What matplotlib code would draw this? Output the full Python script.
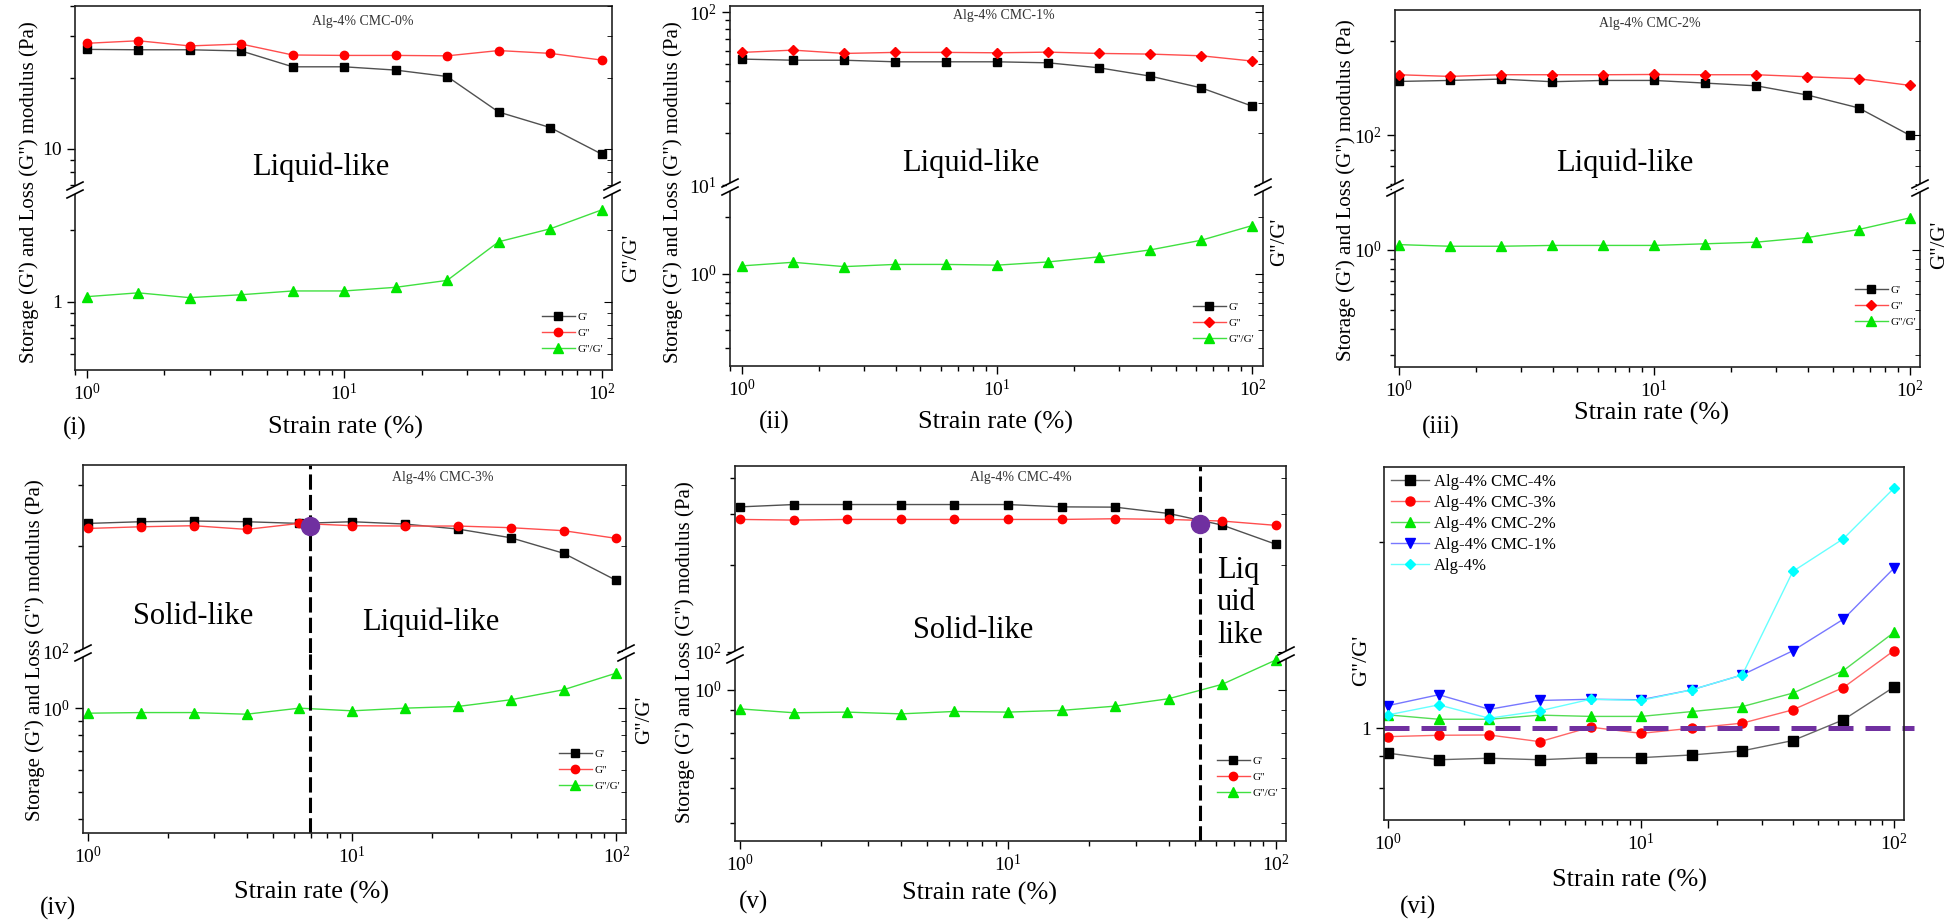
import matplotlib.pyplot as plt
from matplotlib.lines import Line2D
from matplotlib.patches import Rectangle
from matplotlib.ticker import NullFormatter, FuncFormatter

plt.rcParams['font.family'] = ['Liberation Serif', 'DejaVu Serif']
plt.rcParams['mathtext.fontset'] = 'custom'
plt.rcParams['mathtext.rm'] = 'Liberation Serif'
plt.rcParams['mathtext.it'] = 'Liberation Serif:italic'

# strain amplitude (%), 5 points per decade
strain = [1, 1.585, 2.512, 3.981, 6.31, 10, 15.85, 25.12, 39.81, 63.1, 100]

# (i) Alg-4% CMC-0%
store_0 = [26.3, 26.2, 26.2, 25.9, 22.2, 22.2, 21.5, 20.2, 14.3, 12.3, 9.5]
loss_0 = [27.9, 28.6, 27.2, 27.7, 24.9, 24.8, 24.8, 24.7, 26.0, 25.3, 23.7]
ratio_0 = [1.05, 1.09, 1.04, 1.07, 1.11, 1.11, 1.15, 1.23, 1.79, 2.03, 2.44]

# (ii) Alg-4% CMC-1%
store_1 = [53.7, 52.9, 52.9, 51.8, 51.8, 51.8, 51.1, 47.8, 42.8, 36.6, 28.7]
loss_1 = [58.7, 60.5, 57.9, 58.7, 58.7, 58.4, 58.9, 57.9, 57.4, 56.1, 52.3]
ratio_1 = [1.10, 1.15, 1.09, 1.12, 1.12, 1.11, 1.155, 1.23, 1.34, 1.51, 1.81]

# (iii) Alg-4% CMC-2%
store_2 = [148.6, 149.7, 151.2, 148.3, 149.7, 149.7, 146.8, 143.9, 134.5, 122.4, 100.2]
loss_2 = [156.1, 154.2, 156.1, 156.1, 156.1, 156.4, 156.1, 156.1, 153.8, 151.6, 144.4]
ratio_2 = [1.06, 1.04, 1.04, 1.05, 1.05, 1.05, 1.07, 1.09, 1.15, 1.26, 1.44]

# (iv) Alg-4% CMC-3%
store_3 = [232.6, 235.2, 236.3, 235.2, 232.6, 235.2, 231.6, 224.1, 211.6, 191.0, 159.6]
loss_3 = [225.0, 227.5, 229.1, 223.6, 232.6, 229.1, 228.6, 228.6, 226.1, 221.7, 210.7]
ratio_3 = [0.959, 0.964, 0.964, 0.951, 1.0, 0.978, 1.0, 1.014, 1.072, 1.165, 1.338]
cross_3 = [6.9, 229]

# (v) Alg-4% CMC-4%
store_4 = [318.7, 324.7, 324.7, 324.7, 324.7, 324.7, 318.7, 318.0, 302.3, 275.5, 236.4]
loss_4 = [288.2, 286.7, 288.2, 288.2, 288.2, 288.2, 288.2, 289.8, 288.2, 284.5, 274.9]
ratio_4 = [0.905, 0.887, 0.890, 0.882, 0.893, 0.890, 0.898, 0.918, 0.954, 1.028, 1.166]
cross_4 = [52.3, 277]

# (vi) G''/G' of all blends
vi_labels = ['Alg-4% CMC-4%', 'Alg-4% CMC-3%', 'Alg-4% CMC-2%', 'Alg-4% CMC-1%', 'Alg-4%']
vi_cmc4 = [0.911, 0.889, 0.894, 0.889, 0.896, 0.896, 0.905, 0.919, 0.955, 1.032, 1.166]
vi_cmc3 = [0.969, 0.974, 0.975, 0.951, 1.004, 0.981, 1.0, 1.019, 1.071, 1.164, 1.336]
vi_cmc2 = [1.051, 1.034, 1.034, 1.050, 1.045, 1.045, 1.064, 1.084, 1.140, 1.240, 1.430]
vi_cmc1 = [1.088, 1.133, 1.073, 1.109, 1.114, 1.112, 1.154, 1.220, 1.335, 1.502, 1.817]
vi_cmc0 = [1.051, 1.091, 1.038, 1.067, 1.114, 1.109, 1.154, 1.220, 1.795, 2.028, 2.449]

W, H = 1950, 923
fig = plt.figure(figsize=(W / 100, H / 100), dpi=100)


def box(l, t, r, b):
    return [l / W, 1 - b / H, (r - l) / W, (b - t) / H]


def put(x, y, s, **kw):
    kw.setdefault('ha', 'center')
    kw.setdefault('va', 'center')
    fig.text(x / W, 1 - y / H, s, **kw)


def break_marks(x, y):
    fig.add_artist(Rectangle(((x - 3) / W, 1 - (y + 4) / H), 6 / W, 8 / H,
                             facecolor='white', edgecolor='none', zorder=3))
    for dy in (-4, 4):
        fig.add_artist(Line2D([(x - 8) / W, (x + 8) / W],
                              [1 - (y + dy + 4) / H, 1 - (y + dy - 4) / H],
                              color='k', lw=1.2, zorder=4))


def setup_log(ax, xlim, ylim, plain):
    ax.set_xscale('log')
    ax.set_yscale('log')
    ax.set_xlim(xlim)
    ax.set_ylim(ylim)
    ax.xaxis.set_minor_formatter(NullFormatter())
    ax.yaxis.set_minor_formatter(NullFormatter())
    if plain:
        ax.yaxis.set_major_formatter(FuncFormatter(lambda v, p: '%g' % v))
    ax.tick_params(which='both', direction='out', labelsize=14, top=False, right=False, width=1)
    ax.tick_params(which='major', length=6)
    ax.tick_params(which='minor', length=3.5)
    for s in ax.spines.values():
        s.set_linewidth(1.2)
        s.set_color('#222222')


def right_ticks(ax):
    tw = ax.twinx()
    tw.set_yscale('log')
    tw.set_ylim(ax.get_ylim())
    tw.yaxis.set_major_formatter(NullFormatter())
    tw.yaxis.set_minor_formatter(NullFormatter())
    tw.tick_params(which='both', direction='in')
    tw.tick_params(which='major', length=6)
    tw.tick_params(which='minor', length=3.5)
    for s in tw.spines.values():
        s.set_visible(False)


def modulus_panel(frame, brk, xlim, ylim_up, ylim_low, store, loss, ratio, title, title_xy,
                  leg_xy, loss_marker='o', plain=False, cross=None):
    l, t, r, b = frame
    up = fig.add_axes(box(l, t, r, brk))
    low = fig.add_axes(box(l, brk, r, b))
    setup_log(up, xlim, ylim_up, plain)
    setup_log(low, xlim, ylim_low, plain)
    right_ticks(up)
    right_ticks(low)
    up.tick_params(axis='x', which='both', bottom=False, labelbottom=False)
    up.spines['bottom'].set_visible(False)
    low.spines['top'].set_visible(False)

    h1, = up.plot(strain, store, color='#505050', lw=1, marker='s', ms=6, mfc='k', mec='k')
    h2, = up.plot(strain, loss, color='#ff4d4d', lw=1, marker=loss_marker,
                  ms=6 if loss_marker == 'o' else 5, mfc='#ff0000', mec='#ff0000')
    h3, = low.plot(strain, ratio, color='#40e040', lw=1, marker='^', ms=7, mfc='#00e600', mec='#00e600')
    low.legend([h1, h2, h3], ["G'", 'G"', 'G"/G\''], loc='center right',
               bbox_to_anchor=(leg_xy[0] / W, 1 - leg_xy[1] / H), bbox_transform=fig.transFigure,
               frameon=False, fontsize=8, handlelength=3, handletextpad=0.2,
               labelspacing=0.55, borderpad=0, borderaxespad=0)
    put(title_xy[0], title_xy[1], title, fontsize=10, color='#333333')

    if cross is not None:
        for ax in (up, low):
            ax.axvline(cross[0], color='k', lw=2.2, dashes=(5, 1.7))
        up.plot(cross[0], cross[1], 'o', color='#7030a0', ms=13, zorder=5)

    break_marks(l, brk)
    break_marks(r, brk)
    return up, low


ylab = 'Storage (G\') and Loss (G") modulus (Pa)'
ratio_lab = 'G"/G\''

# (i)
modulus_panel((75, 6, 612, 370), 190, (0.90, 109.7), (6.7, 40.1), (0.515, 2.96),
              store_0, loss_0, ratio_0, 'Alg-4% CMC-0%', (363, 22), (603, 333), plain=True)
put(29, 192, ylab, rotation=90, fontsize=15)
put(632, 258, ratio_lab, rotation=90, fontsize=15)
put(321, 167, 'Liquid-like', fontsize=22)
put(346, 427, 'Strain rate (%)', fontsize=19)
put(75, 428, '(i)', fontsize=18)

# (ii)
modulus_panel((730, 6, 1263, 366), 187, (0.897, 110), (9.8, 108.8), (0.32, 2.91),
              store_1, loss_1, ratio_1, 'Alg-4% CMC-1%', (1004, 15), (1254, 323), loss_marker='D')
put(673, 192, ylab, rotation=90, fontsize=15)
put(1280, 242, ratio_lab, rotation=90, fontsize=15)
put(971, 163, 'Liquid-like', fontsize=22)
put(996, 422, 'Strain rate (%)', fontsize=19)
put(774, 422, '(ii)', fontsize=18)

# (iii)
modulus_panel((1395, 10, 1920, 367), 188, (0.967, 109.8), (68, 251), (0.26, 2.03),
              store_2, loss_2, ratio_2, 'Alg-4% CMC-2%', (1650, 23), (1916, 306), loss_marker='D')
put(1346, 190, ylab, rotation=90, fontsize=15)
put(1940, 245, ratio_lab, rotation=90, fontsize=15)
put(1625, 163, 'Liquid-like', fontsize=22)
put(1652, 413, 'Strain rate (%)', fontsize=19)
put(1441, 427, '(iii)', fontsize=18)

# (iv)
modulus_panel((83, 465, 626, 833), 653, (0.957, 108.7), (98.9, 342), (0.355, 1.58),
              store_3, loss_3, ratio_3, 'Alg-4% CMC-3%', (443, 477), (620, 770), cross=cross_3)
put(35, 650, ylab, rotation=90, fontsize=15)
put(645, 720, ratio_lab, rotation=90, fontsize=15)
put(193, 616, 'Solid-like', fontsize=22)
put(431, 622, 'Liquid-like', fontsize=22)
put(311, 892, 'Strain rate (%)', fontsize=19)
put(58, 908, '(iv)', fontsize=18)

# (v)
modulus_panel((735, 466, 1286, 841), 655, (0.955, 109.3), (97.4, 442), (0.456, 1.197),
              store_4, loss_4, ratio_4, 'Alg-4% CMC-4%', (1021, 478), (1278, 777), cross=cross_4)
put(685, 652, ylab, rotation=90, fontsize=15)
put(973, 630, 'Solid-like', fontsize=22)
put(1217, 603, 'Liq\nuid\nlike', fontsize=22, ha='left', linespacing=1.15)
put(980, 893, 'Strain rate (%)', fontsize=19)
put(753, 902, '(v)', fontsize=18)

# (vi)
ax6 = fig.add_axes(box(1384, 467, 1904, 820))
setup_log(ax6, (0.963, 109.5), (0.71, 2.65), True)
vi_series = [vi_cmc4, vi_cmc3, vi_cmc2, vi_cmc1, vi_cmc0]
vi_marks = ['s', 'o', '^', 'v', 'D']
vi_mcol = ['#000000', '#ff0000', '#00e600', '#0000ff', '#00ffff']
vi_lcol = ['#666666', '#ff6666', '#55dd55', '#7777ff', '#66ffff']
for vals, lab, mk, mc, lc in zip(vi_series, vi_labels, vi_marks, vi_mcol, vi_lcol):
    ax6.plot(strain, vals, color=lc, lw=1, marker=mk, ms=6.5 if mk != 'D' else 5.5,
             mfc=mc, mec=mc, label=lab)
ax6.axhline(1, xmin=0, xmax=1.02, color='#7030a0', lw=3.6, dashes=(5, 2.4), clip_on=False)
ax6.legend(loc='upper left', bbox_to_anchor=(1391 / W, 1 - 474 / H), bbox_transform=fig.transFigure,
           frameon=False, fontsize=12, handlelength=2.3, handletextpad=0.3,
           labelspacing=0.3, borderpad=0, borderaxespad=0)
put(1362, 660, ratio_lab, rotation=90, fontsize=16)
put(1630, 880, 'Strain rate (%)', fontsize=19)
put(1418, 907, '(vi)', fontsize=18)

plt.savefig('out.png', dpi=100)
